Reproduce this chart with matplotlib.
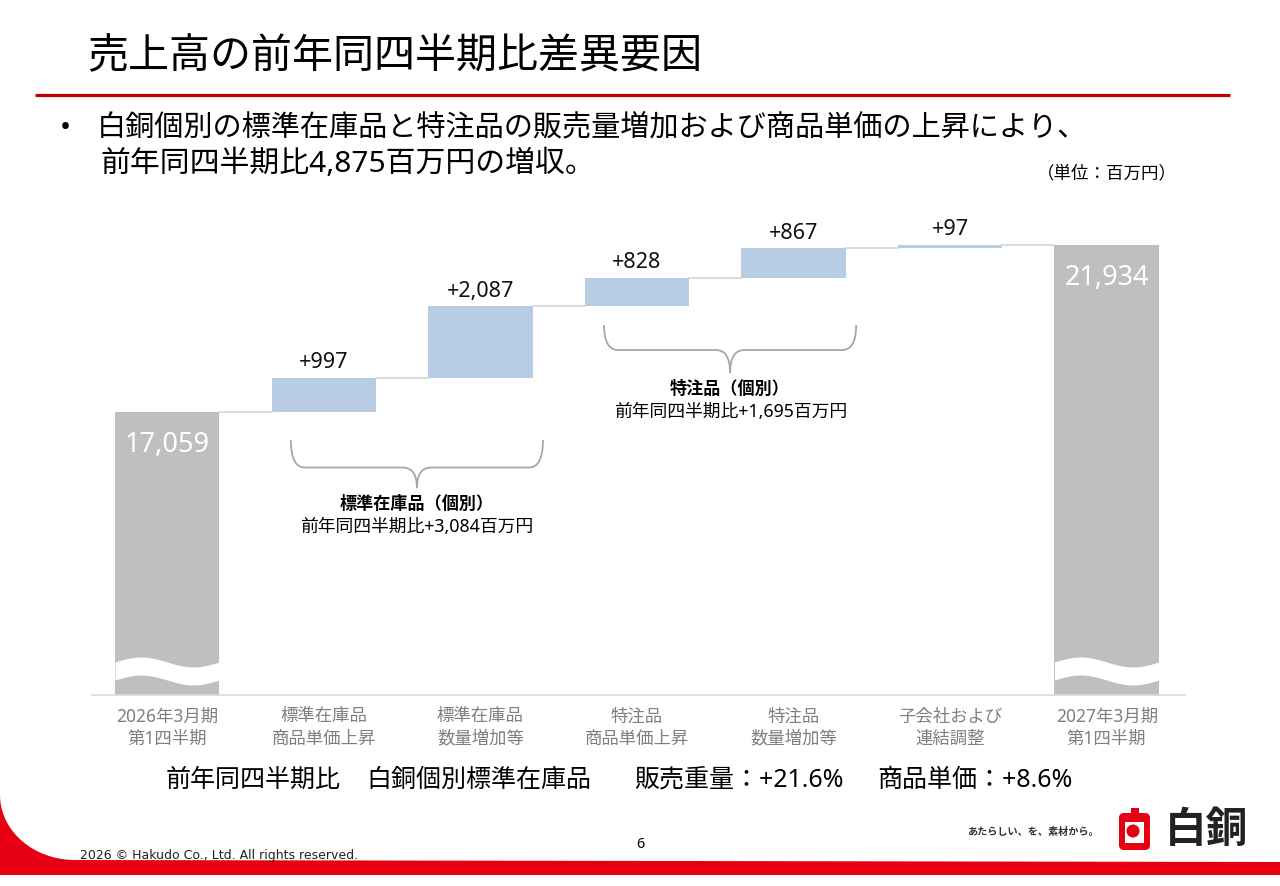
import numpy as np
import matplotlib.pyplot as plt
from matplotlib.patches import Rectangle, FancyBboxPatch, Circle, PathPatch, Polygon
from matplotlib.path import Path

plt.rcParams['font.family'] = ['Noto Sans', 'Noto Sans CJK JP', 'DejaVu Sans']

# データ（百万円）
categories = ['2026年3月期\n第1四半期', '標準在庫品\n商品単価上昇', '標準在庫品\n数量増加等',
              '特注品\n商品単価上昇', '特注品\n数量増加等', '子会社および\n連結調整',
              '2027年3月期\n第1四半期']
start_value = 17059
end_value = 21934
deltas = [997, 2087, 828, 867, 97]
delta_labels = ['+997', '+2,087', '+828', '+867', '+97']
total_labels = ['17,059', '21,934']
group_names = ['標準在庫品（個別）', '特注品（個別）']
group_texts = ['前年同四半期比+3,084百万円', '前年同四半期比+1,695百万円']
group_members = [(1, 2), (3, 4)]
summary_parts = ['前年同四半期比', '白銅個別標準在庫品', '販売重量：+21.6%', '商品単価：+8.6%']

W, H = 1280, 886
GRAY = '#bfbfbf'
BLUE = '#b8cce4'
LINE = '#d9d9d9'
RED = '#e60012'

fig = plt.figure(figsize=(W / 100, H / 100), dpi=100)

# 背景用の軸（ピクセル座標）
bg = fig.add_axes([0, 0, 1, 1])
bg.set_xlim(0, W)
bg.set_ylim(H, 0)
bg.axis('off')

bg.text(87, 57, '売上高の前年同四半期比差異要因', fontsize=29.5, va='center', ha='left')
bg.plot([35, 1230], [95, 95], color='#c00000', lw=2.3, solid_capstyle='butt')
bg.text(60, 128, '•', fontsize=21, va='center', ha='left')
bg.text(97, 128, '白銅個別の標準在庫品と特注品の販売量増加および商品単価の上昇により、',
        fontsize=21, va='center', ha='left')
bg.text(100, 164, '前年同四半期比4,875百万円の増収。', fontsize=21.5, va='center', ha='left')
bg.text(1177, 173, '（単位：百万円）', fontsize=12.6, va='center', ha='right')

summary_x = [166, 366, 634, 877]
for sx, part in zip(summary_x, summary_parts):
    bg.text(sx, 780, part, fontsize=18, va='center', ha='left')

# フッター
phi = np.linspace(0, np.pi / 2, 40)
arc = np.column_stack([75 - 75 * np.cos(phi), 795 + 65 * np.sin(phi)])
footer = np.vstack([arc, [[W, 862], [W, 875], [0, 875]]])
bg.add_patch(Polygon(footer, closed=True, color=RED, lw=0))
bg.text(80, 855, '2026 © Hakudo Co., Ltd. All rights reserved.', fontsize=9,
        family='DejaVu Sans', va='center', ha='left', color='#222222')
bg.text(640, 845, '6', fontsize=10.5, va='center', ha='center')
bg.text(1033, 832, 'あたらしい、を、素材から。', fontsize=7.3, weight='bold',
        va='center', ha='center', color='#333333')
bg.add_patch(Rectangle((1131, 808), 8, 8, color=RED, lw=0))
bg.add_patch(FancyBboxPatch((1121, 815), 27, 33, boxstyle='round,pad=2,rounding_size=5',
                            color=RED, lw=0))
bg.add_patch(Rectangle((1125, 822), 19, 21, color='white', lw=0))
bg.add_patch(Circle((1133, 831), 6.5, color=RED, lw=0))
bg.text(1207, 831, '白銅', fontsize=30, weight='bold', va='center', ha='center', color='#222222')

# ウォーターフォール
ax = fig.add_axes([92 / W, 1 - 695 / H, 1093 / W, 495 / H])
ax.patch.set_alpha(0)
ax.set_xlim(-0.48, 6.5)
y_floor = 8800
ax.set_ylim(y_floor, 23250)

w = 0.667
x = np.arange(len(categories))
before = start_value + np.concatenate([[0], np.cumsum(deltas)[:-1]])
after = start_value + np.cumsum(deltas)

ax.bar([0, 6], [start_value, end_value], width=w, color=GRAY, zorder=2)
ax.bar(x[1:6], deltas, bottom=before, width=w, color=BLUE, zorder=2)

levels = [start_value] + list(after)
for i in range(6):
    ax.plot([i + w / 2, i + 1 - w / 2], [levels[i], levels[i]], color=LINE, lw=1.3, zorder=1)

# 省略記号（波線）
unit = 29.2  # 1px あたりの値
for i in [0, 6]:
    xs = np.linspace(i - w / 2, i + w / 2, 80)
    t = (xs - xs[0]) / w
    yc = y_floor + 24 * unit + 5 * unit * np.sin(2 * np.pi * t)
    ax.fill_between(xs, yc - 9 * unit, yc + 9 * unit, color='white', lw=0, zorder=3)

for i, lab in zip(range(1, 6), delta_labels):
    ax.annotate(lab, (i, after[i - 1]), xytext=(0, 11), textcoords='offset points',
                ha='center', va='center', fontsize=15.5, color='#111111')
for i, val, lab in zip([0, 6], [start_value, end_value], total_labels):
    ax.annotate(lab, (i, val), xytext=(0, -23.5), textcoords='offset points',
                ha='center', va='center', fontsize=19.5, color='white', zorder=4)

# 中括弧
brace_levels = [(16240, 15440, 14840), (19600, 18870, 18200)]
rx = 0.09
for (a, b), (top, mid, tip), name, txt in zip(group_members, brace_levels, group_names, group_texts):
    x0 = a - 0.21
    x1 = b + 0.4
    xc = (x0 + x1) / 2
    verts = [(x0, top), (x0, mid), (x0 + rx, mid), (xc - rx, mid), (xc, mid), (xc, tip),
             (xc, mid), (xc + rx, mid), (x1 - rx, mid), (x1, mid), (x1, top)]
    codes = [Path.MOVETO, Path.CURVE3, Path.CURVE3, Path.LINETO, Path.CURVE3, Path.CURVE3,
             Path.CURVE3, Path.CURVE3, Path.LINETO, Path.CURVE3, Path.CURVE3]
    ax.add_patch(PathPatch(Path(verts, codes), fill=False, edgecolor='#a6a6a6', lw=1.3))
    ax.annotate(name, (xc, tip), xytext=(0, -11.5), textcoords='offset points',
                ha='center', va='center', fontsize=12.3, weight='bold')
    ax.annotate(txt, (xc, tip), xytext=(0, -28), textcoords='offset points',
                ha='center', va='center', fontsize=12.8)

for s in ['top', 'right', 'left']:
    ax.spines[s].set_visible(False)
ax.spines['bottom'].set_color(LINE)
ax.spines['bottom'].set_linewidth(1.2)
ax.set_yticks([])
ax.set_xticks(x)
ax.set_xticklabels(categories, fontsize=12.5, color='#7f7f7f', linespacing=1.3)
ax.tick_params(axis='x', length=0, pad=9)

plt.savefig('out.png', dpi=100)
